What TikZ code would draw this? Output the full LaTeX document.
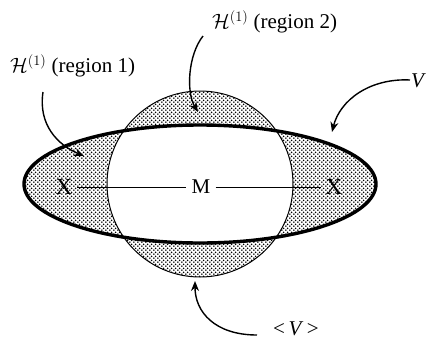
\documentclass[tikz,border=0pt]{standalone}
\usepackage{fontspec}
\setmainfont{Liberation Serif}
\usetikzlibrary{patterns,arrows.meta}
\pgfdeclarepatternformonly{refdots}{\pgfpointorigin}{\pgfpoint{4.2pt}{4.2pt}}{\pgfpoint{4.2pt}{4.2pt}}{%
  \pgfpathcircle{\pgfpoint{1.05pt}{1.05pt}}{1pt}%
  \pgfpathcircle{\pgfpoint{3.15pt}{3.15pt}}{1pt}%
  \pgfusepath{fill}}
\begin{document}
\begin{tikzpicture}[x=1pt,y=-1pt,
  lbl/.style={font=\fontsize{21}{25}\selectfont, inner sep=1pt},
  arr/.style={line width=1.4pt, -{Stealth[length=10pt,width=8pt]}},
  thinl/.style={line width=1pt}]
\useasboundingbox (0,0) rectangle (429,341);
% shaded regions (symmetric difference)
\path[pattern=refdots, even odd rule]
  (200,184) ellipse[x radius=176pt, y radius=59pt]
  (200,184) circle[radius=93pt];
\draw[thinl] (200,184) circle[radius=93pt];
\draw[line width=3.4pt] (200,184) ellipse[x radius=176pt, y radius=59pt];
% axis labels
\node[lbl, font=\fontsize{23}{27}\selectfont, inner sep=4pt] (xl) at (64,187) {X};
\node[lbl, inner sep=5pt] (m) at (201,187) {M};
\node[lbl, font=\fontsize{23}{27}\selectfont, inner sep=4pt] (xr) at (334,187) {X};
\draw[thinl] (xl) -- (m);
\draw[thinl] (m) -- (xr);
% text labels
\node[lbl, anchor=west] (h1) at (9,66) {$\mathcal{H}^{(1)}$ (region 1)};
\node[lbl, anchor=west] (h2) at (211,22) {$\mathcal{H}^{(1)}$ (region 2)};
\node[lbl, anchor=west] (v) at (410,81) {\textit{V}};
\node[lbl, anchor=base west] (av) at (272,335) {<\,\textit{V}\,>};
% arrow ends
\coordinate (a1s) at (43,92);  \coordinate (a1e) at (84,156);
\coordinate (a2s) at (203,36); \coordinate (a2e) at (198,112);
\coordinate (a3s) at (410,80); \coordinate (a3e) at (332,132);
\coordinate (a4s) at (257,335); \coordinate (a4e) at (195,281);
\draw[arr] (a1s) .. controls (38,125) and (58,145) .. (a1e);
\draw[arr] (a2s) .. controls (188,55) and (186,92) .. (a2e);
\draw[arr] (a3s) .. controls (370,78) and (340,100) .. (a3e);
\draw[arr] (a4s) .. controls (215,335) and (195,312) .. (a4e);
\end{tikzpicture}
\end{document}
